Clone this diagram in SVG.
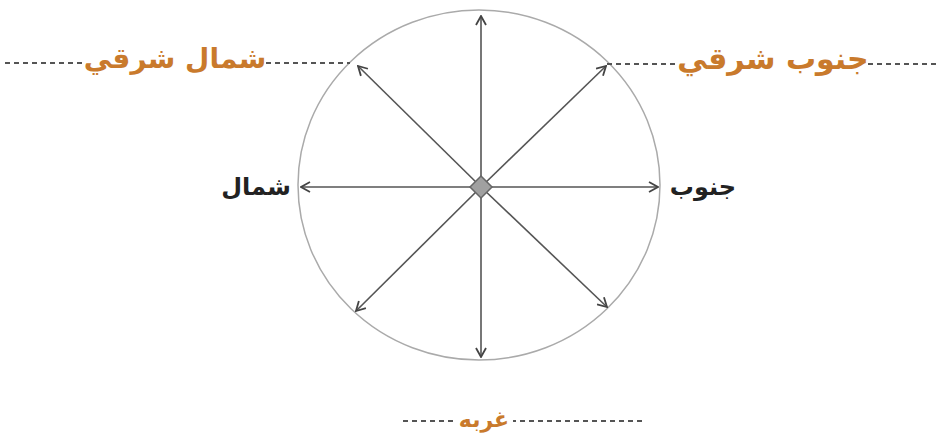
<svg xmlns="http://www.w3.org/2000/svg" width="938" height="446" viewBox="0 0 938 446">
<defs>
<marker id="ah" viewBox="0 0 12 12" refX="11" refY="6" markerWidth="12" markerHeight="12" markerUnits="userSpaceOnUse" orient="auto">
<path d="M2,1 L11,6 L2,11" fill="none" stroke="#444" stroke-width="1.8"/>
</marker>
<style>
.arr{stroke:#555;stroke-width:1.6;fill:none;marker-end:url(#ah)}
.dash{stroke:#555;stroke-width:2;stroke-dasharray:5,4;fill:none}
.or{font-family:"DejaVu Sans",sans-serif;font-weight:bold;fill:#c97a2c;text-anchor:middle}
.bk{font-family:"DejaVu Sans",sans-serif;font-weight:bold;fill:#222;text-anchor:middle;font-size:24px}
</style>
</defs>
<rect width="938" height="446" fill="#fff"/>
<g id="circle">
<ellipse cx="479" cy="185" rx="181" ry="175" fill="none" stroke="#aaa" stroke-width="1.5"/>
</g>
<g id="connectors">
<line class="arr" x1="481" y1="187" x2="481" y2="16"/>
<line class="arr" x1="481" y1="187" x2="481" y2="357"/>
<line class="arr" x1="481" y1="187" x2="301" y2="187"/>
<line class="arr" x1="481" y1="187" x2="658" y2="187"/>
<line class="arr" x1="481" y1="187" x2="358" y2="66"/>
<line class="arr" x1="481" y1="187" x2="606" y2="66"/>
<line class="arr" x1="481" y1="187" x2="356" y2="311"/>
<line class="arr" x1="481" y1="187" x2="607" y2="307"/>
<line class="dash" x1="5" y1="63" x2="350" y2="63"/>
<line class="dash" x1="607" y1="64" x2="938" y2="64"/>
<line class="dash" x1="403" y1="421" x2="645" y2="421"/>
</g>
<g id="center">
<polygon points="481,176 492,187 481,198 470,187" fill="#a0a0a0" stroke="#666" stroke-width="1.5"/>
</g>
<g id="label-ne">
<rect x="86" y="42" width="178" height="34" fill="#fff"/>
<text class="or" x="175" y="68" font-size="28">شمال شرقي</text>
</g>
<g id="label-se">
<rect x="679" y="42" width="188" height="34" fill="#fff"/>
<text class="or" x="773" y="69" font-size="30">جنوب شرقي</text>
</g>
<g id="label-w">
<rect x="455" y="404" width="58" height="26" fill="#fff"/>
<text class="or" x="484" y="427" font-size="22">غربه</text>
</g>
<g id="label-n">
<text class="bk" x="256" y="195">شمال</text>
</g>
<g id="label-s">
<text class="bk" x="703" y="195">جنوب</text>
</g>
</svg>
